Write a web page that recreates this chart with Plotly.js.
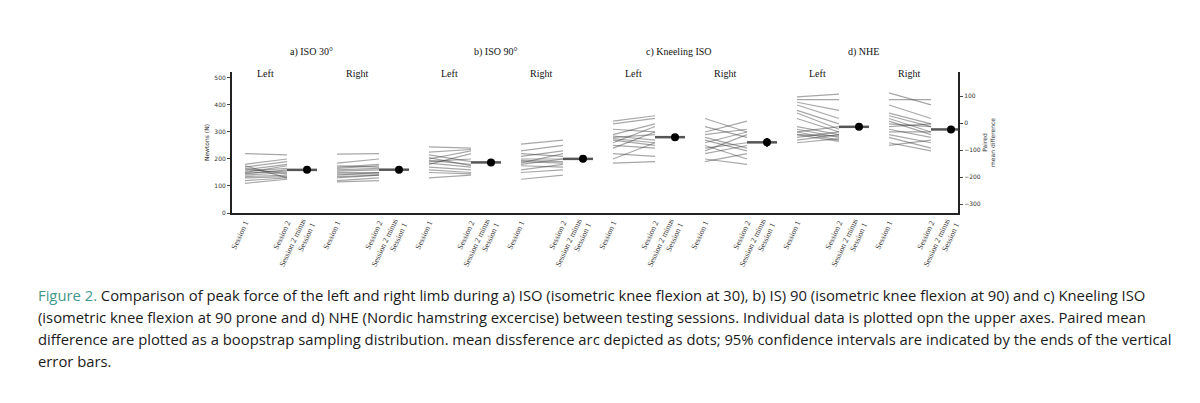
<!DOCTYPE html>
<html><head><meta charset="utf-8">
<script src="https://cdn.plot.ly/plotly-3.0.1.min.js"></script>
<style>
body{margin:0;background:#fff;width:1200px;height:403px;overflow:hidden;font-family:"Open Sans",sans-serif}
#chart{position:absolute;left:0;top:0;width:1200px;height:403px}
#cap{position:absolute;left:38px;top:284px;width:1140px;font-size:14.8px;line-height:22px;color:#1a1a1a}
#cap span{color:#3f9a8c}
</style></head><body>
<div id="chart"></div>
<div id="cap"><span>Figure 2.</span> Comparison of peak force of the left and right limb during a) ISO (isometric knee flexion at 30), b) IS) 90 (isometric knee flexion at 90) and c) Kneeling ISO (isometric knee flexion at 90 prone and d) NHE (Nordic hamstring excercise) between testing sessions. Individual data is plotted opn the upper axes. Paired mean difference are plotted as a boopstrap sampling distribution. mean dissference arc depicted as dots; 95% confidence intervals are indicated by the ends of the vertical error bars.</div>
<script>
const tests = ['a) ISO 30°', 'b) ISO 90°', 'c) Kneeling ISO', 'd) NHE'];
const limbs = ['Left', 'Right'];
const tickNames = ['Session 1', 'Session 2', 'Session 2 minus<br>Session 1'];
// session 1 / session 2 values per group (test x limb), Newtons
const session1 = [
  [220,180,175,160,150,145,140,135,130,120,110,170,155,165,148],
  [218,185,175,165,155,150,145,140,130,120,115,160,170,135],
  [245,225,215,200,195,190,185,180,170,160,150,130,205],
  [255,230,220,210,200,195,190,185,175,160,150,125,180],
  [340,330,310,290,285,280,275,270,260,250,240,220,200,185],
  [350,320,300,290,280,270,260,250,240,230,220,200,190],
  [430,420,410,400,380,370,350,320,310,300,290,280,270,260,300,290],
  [445,420,400,370,360,350,340,330,320,310,300,290,280,260,250]
];
const session2 = [
  [215,200,130,180,175,160,150,140,135,130,125,190,165,145,155],
  [220,200,170,175,160,150,145,150,140,130,120,165,180,140],
  [240,235,190,230,180,200,170,220,160,150,145,140,175],
  [270,250,210,230,200,190,185,220,170,180,160,140,200],
  [360,350,300,330,270,290,260,250,320,240,300,210,260,190],
  [300,280,340,310,240,230,300,200,260,290,250,180,220],
  [440,420,380,350,330,310,300,290,280,270,265,300,290,275,320,285],
  [400,420,350,330,320,300,290,320,330,280,300,260,240,230,270]
];
const ciHalf = [6,5,9,7,10,16,7,10];

const base = g => 245 + 92*g;
const mean = a => a.reduce((s,v)=>s+v,0)/a.length;
const traces = [];
const tickvals = [], ticktext = [];
const ann = [];
for (let g = 0; g < 8; g++) {
  const x0 = base(g), x1 = x0 + 42, xd = x0 + 62;
  tickvals.push(x0, x1, xd); ticktext.push(...tickNames);
  session1[g].forEach((v, i) => {
    traces.push({x:[x0,x1], y:[v, session2[g][i]], mode:'lines', line:{color:'rgba(60,60,60,0.45)', width:1.2}, hoverinfo:'skip', showlegend:false});
  });
  const m2 = mean(session2[g]);
  traces.push({x:[x1, xd+10], y:[m2, m2], mode:'lines', line:{color:'#555', width:2.5}, showlegend:false});
  traces.push({x:[xd], y:[m2], mode:'markers', marker:{color:'#000', size:8},
    error_y:{type:'constant', value:ciHalf[g], color:'#000', thickness:2, width:0}, showlegend:false});
  ann.push({x:x0+20, y:1.04, xref:'x', yref:'paper', text:limbs[g%2], showarrow:false, font:{family:'Liberation Serif', size:10, color:'#111'}});
}
tests.forEach((t, k) => ann.push({x:base(2*k)+66, y:1.2, xref:'x', yref:'paper', text:t, showarrow:false, font:{family:'Liberation Serif', size:10, color:'#111'}}));
traces.push({x:[950], y:[0], yaxis:'y2', mode:'markers', marker:{opacity:0}, hoverinfo:'skip', showlegend:false});

Plotly.newPlot('chart', traces, {
  width:1200, height:403, paper_bgcolor:'#fff', plot_bgcolor:'#fff',
  margin:{l:232, r:242, t:72, b:190},
  font:{family:'Liberation Serif', size:8, color:'#333'},
  xaxis:{range:[232,958], tickvals:tickvals, ticktext:ticktext, tickangle:-65, showgrid:false, zeroline:false,
    showline:true, linecolor:'#222', linewidth:2, ticks:'', tickfont:{size:8}},
  yaxis:{range:[0,522], tickvals:[0,100,200,300,400,500], showgrid:false, zeroline:false, showline:true,
    linecolor:'#222', linewidth:2, ticks:'outside', ticklen:3, tickfont:{family:'DejaVu Sans', size:6},
    title:{text:'Newtons (N)', font:{family:'DejaVu Sans', size:6}, standoff:4}},
  yaxis2:{overlaying:'y', side:'right', range:[-333,189], tickvals:[-300,-200,-100,0,100], showgrid:false, zeroline:false,
    showline:true, linecolor:'#222', linewidth:2, ticks:'outside', ticklen:3, tickfont:{family:'DejaVu Sans', size:6},
    title:{text:'Paired<br>mean difference', font:{family:'DejaVu Sans', size:6}, standoff:2}},
  annotations:ann
}, {staticPlot:true});
</script>
</body></html>
